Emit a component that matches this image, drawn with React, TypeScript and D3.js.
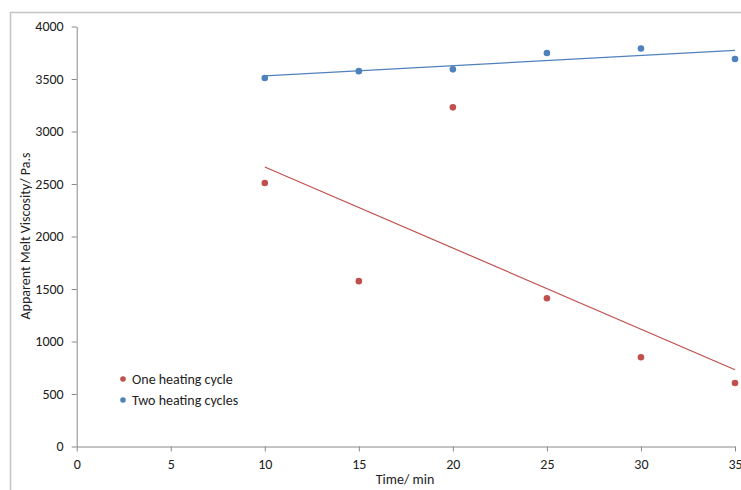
import React, { useRef, useEffect } from 'react';
import * as d3 from 'd3';

const times = [10, 15, 20, 25, 30, 35];
const oneCycle = [2510, 1575, 3230, 1412, 850, 605];
const twoCycles = [3510, 3575, 3592, 3748, 3790, 3690];
const seriesNames = ["One heating cycle", "Two heating cycles"];
const seriesColors = ["#c0504d", "#4f81bd"];
const xTicks = [0, 5, 10, 15, 20, 25, 30, 35];
const yTicks = [0, 500, 1000, 1500, 2000, 2500, 3000, 3500, 4000];

function linearFit(xs: number[], ys: number[]) {
  const mx = d3.mean(xs)!;
  const my = d3.mean(ys)!;
  const sxy = d3.sum(xs, (x, i) => (x - mx) * (ys[i] - my));
  const sxx = d3.sum(xs, x => (x - mx) * (x - mx));
  const slope = sxy / sxx;
  return (x: number) => my + slope * (x - mx);
}

function App() {
  const ref = useRef<SVGSVGElement>(null);

  useEffect(() => {
    const svg = d3.select(ref.current);
    svg.selectAll("*").remove();

    const width = 741;
    const height = 490;
    const font = "Carlito, Calibri, 'Liberation Sans', Arial, sans-serif";
    const fontSize = "14px";

    // chart frame
    svg.append("rect")
      .attr("x", 10.5).attr("y", 12.5)
      .attr("width", 760).attr("height", 500)
      .attr("fill", "white")
      .attr("stroke", "#c4c4c4")
      .attr("stroke-width", 1.5);

    const x = d3.scaleLinear().domain([0, 35]).range([76.7, 735]);
    const y = d3.scaleLinear().domain([0, 4000]).range([446.5, 26.5]);

    const axisColor = "#888888";

    const gx = svg.append("g").attr("transform", `translate(0,${y(0)})`)
      .call(d3.axisBottom(x).tickValues(xTicks).tickFormat(d3.format("d")).tickSizeInner(5).tickSizeOuter(0).tickPadding(8));
    const gy = svg.append("g").attr("transform", `translate(${x(0)},0)`)
      .call(d3.axisLeft(y).tickValues(yTicks).tickFormat(d3.format("d")).tickSizeInner(5).tickSizeOuter(0).tickPadding(8));

    [gx, gy].forEach(g => {
      g.select(".domain").attr("stroke", axisColor);
      g.selectAll(".tick line").attr("stroke", axisColor);
      g.selectAll(".tick text")
        .attr("fill", "#222")
        .style("font-family", font)
        .style("font-size", fontSize);
    });

    const series = [oneCycle, twoCycles];
    series.forEach((vals, si) => {
      const fit = linearFit(times, vals);
      const x0 = d3.min(times)!;
      const x1 = d3.max(times)!;
      svg.append("line")
        .attr("x1", x(x0)).attr("y1", y(fit(x0)))
        .attr("x2", x(x1)).attr("y2", y(fit(x1)))
        .attr("stroke", seriesColors[si])
        .attr("stroke-width", 1.2);

      svg.append("g").selectAll("circle")
        .data(vals)
        .enter().append("circle")
          .attr("cx", (d, i) => x(times[i]))
          .attr("cy", d => y(d))
          .attr("r", 3.3)
          .attr("fill", seriesColors[si]);
    });

    // legend
    const legend = svg.append("g");
    seriesNames.forEach((name, i) => {
      const ly = 379 + i * 21;
      legend.append("circle")
        .attr("cx", 123).attr("cy", ly)
        .attr("r", 2.8)
        .attr("fill", seriesColors[i]);
      legend.append("text")
        .attr("x", 132).attr("y", ly)
        .attr("dy", "0.35em")
        .style("font-family", font)
        .style("font-size", fontSize)
        .attr("fill", "#222")
        .text(name);
    });

    svg.append("text")
      .attr("x", 405).attr("y", 484)
      .attr("text-anchor", "middle")
      .style("font-family", font)
      .style("font-size", fontSize)
      .attr("fill", "#222")
      .text("Time/ min");

    svg.append("text")
      .attr("transform", `translate(30,236) rotate(-90)`)
      .attr("text-anchor", "middle")
      .style("font-family", font)
      .style("font-size", fontSize)
      .attr("fill", "#222")
      .text("Apparent Melt Viscosity/ Pa.s");

    svg.attr("width", width).attr("height", height);
  }, []);

  return (
    <svg ref={ref} style={{ position: "absolute", left: 0, top: 0, display: "block" }}></svg>
  );
}

export default App;
